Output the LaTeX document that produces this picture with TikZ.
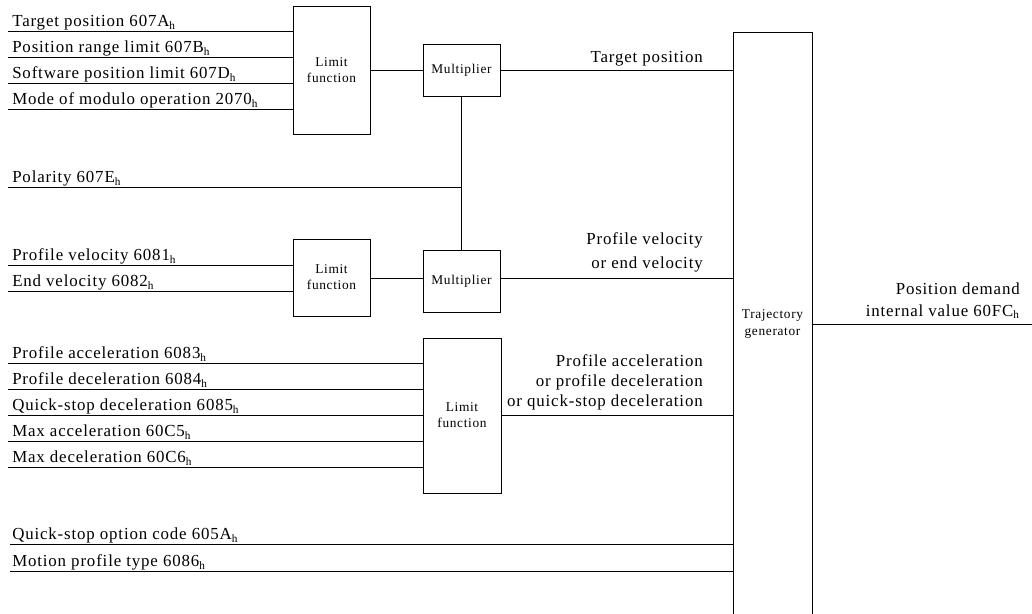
\documentclass[tikz,border=0pt]{standalone}
\usepackage{fontspec}
\setmainfont[LetterSpace=5]{Liberation Serif}
\usetikzlibrary{positioning}
\newcommand{\hsub}{\textsubscript{h}}

\tikzset{
	blk/.style={draw, line width=0.6pt, inner sep=0pt, minimum width=1.925cm, align=center, font=\fontsize{9.5}{11.4}\selectfont},
	lbl/.style={anchor=base west, inner sep=0pt, font=\fontsize{12}{14}\selectfont},
	sig/.style={anchor=base east, inner sep=0pt, align=right, font=\fontsize{12}{14}\selectfont},
	wire/.style={line width=0.6pt}
}

\begin{document}
\begin{tikzpicture}[x=0.025cm, y=-0.025cm]
			%%%%% START %%%%%
			\useasboundingbox (0, 0) rectangle (1032, 613);
			
			\node[blk, minimum height=3.2cm] (lim1) at (331.5, 70) {Limit\\function};
			\node[blk, minimum height=1.3cm] (mul1) at (461.5, 70.5) {Multiplier};
			\node[blk, minimum height=1.925cm] (lim2) at (331.5, 277.5) {Limit\\function};
			\node[blk, minimum height=1.55cm] (mul2) at (461.5, 281) {Multiplier};
			\node[blk, minimum height=3.875cm, minimum width=1.95cm] (lim3) at (462, 415.5) {Limit\\function};
			\node[blk, minimum height=14.6cm, minimum width=1.975cm, font=\fontsize{9.5}{12}\selectfont] (traj) at (772.5, 324) {Trajectory\\generator};
			
			% inputs of the first limit function
			\coordinate (in1) at (8, 31);
			\coordinate (in2) at (8, 57);
			\coordinate (in3) at (8, 83);
			\coordinate (in4) at (8, 109);
			\node[lbl] (tp) at (12, 26.5) {Target position 607A\hsub};
			\node[lbl] (prl) at (12, 52.5) {Position range limit 607B\hsub};
			\node[lbl] (spl) at (12, 78.5) {Software position limit 607D\hsub};
			\node[lbl] (mmo) at (12, 104.5) {Mode of modulo operation 2070\hsub};
			\draw[wire] (in1) -- (in1 -| lim1.west);
			\draw[wire] (in2) -- (in2 -| lim1.west);
			\draw[wire] (in3) -- (in3 -| lim1.west);
			\draw[wire] (in4) -- (in4 -| lim1.west);
			
			% polarity
			\coordinate (pol) at (8, 187);
			\node[lbl] (pl) at (12, 182.5) {Polarity 607E\hsub};
			\draw[wire] (pol) -- (pol -| mul1.south);
			\draw[wire] (mul1.south) -- (mul2.north);
			
			% velocity inputs
			\coordinate (in5) at (8, 265);
			\coordinate (in6) at (8, 291);
			\node[lbl] (pv) at (12, 260.5) {Profile velocity 6081\hsub};
			\node[lbl] (ev) at (12, 286.5) {End velocity 6082\hsub};
			\draw[wire] (in5) -- (in5 -| lim2.west);
			\draw[wire] (in6) -- (in6 -| lim2.west);
			
			% acceleration inputs
			\coordinate (in7) at (8, 363);
			\coordinate (in8) at (8, 389);
			\coordinate (in9) at (8, 415);
			\coordinate (in10) at (8, 441);
			\coordinate (in11) at (8, 467);
			\node[lbl] (pa) at (12, 358.5) {Profile acceleration 6083\hsub};
			\node[lbl] (pd) at (12, 384.5) {Profile deceleration 6084\hsub};
			\node[lbl] (qd) at (12, 410.5) {Quick-stop deceleration 6085\hsub};
			\node[lbl] (ma) at (12, 436.5) {Max acceleration 60C5\hsub};
			\node[lbl] (md) at (12, 462.5) {Max deceleration 60C6\hsub};
			\draw[wire] (in7) -- (in7 -| lim3.west);
			\draw[wire] (in8) -- (in8 -| lim3.west);
			\draw[wire] (in9) -- (in9 -| lim3.west);
			\draw[wire] (in10) -- (in10 -| lim3.west);
			\draw[wire] (in11) -- (in11 -| lim3.west);
			
			% direct inputs of the trajectory generator
			\coordinate (in12) at (10, 544);
			\coordinate (in13) at (10, 571);
			\node[lbl] (qs) at (12, 539.5) {Quick-stop option code 605A\hsub};
			\node[lbl] (mp) at (12, 566.5) {Motion profile type 6086\hsub};
			\draw[wire] (in12) -- (in12 -| traj.west);
			\draw[wire] (in13) -- (in13 -| traj.west);
			
			% inner connections
			\draw[wire] (lim1.east |- mul1.west) -- (mul1.west);
			\draw[wire] (mul1.east) -- (mul1.east -| traj.west);
			\draw[wire] (lim2.east |- in5) ++(0, 13) coordinate (v2) -- (v2 -| mul2.west);
			\draw[wire] (v2 -| mul2.east) -- (v2 -| traj.west);
			\draw[wire] (lim3.east) -- (lim3.east -| traj.west);
			
			\node[sig] (tpo) at (703, 62) {Target position};
			\node[sig, font=\fontsize{12}{16.4}\selectfont] (pvo) at (703, 268) {Profile velocity\\or end velocity};
			\node[sig, font=\fontsize{12}{13.9}\selectfont] (pao) at (703, 406) {Profile acceleration\\or profile deceleration\\or quick-stop deceleration};
			
			% output
			\coordinate (out) at (1032, 324);
			\draw[wire] (traj.east) -- (out);
			\node[sig, font=\fontsize{12}{15}\selectfont] (pdi) at (1020, 316) {Position demand\\internal value 60FC\hsub};
			%%%%% END %%%%%
\end{tikzpicture}
\end{document}
